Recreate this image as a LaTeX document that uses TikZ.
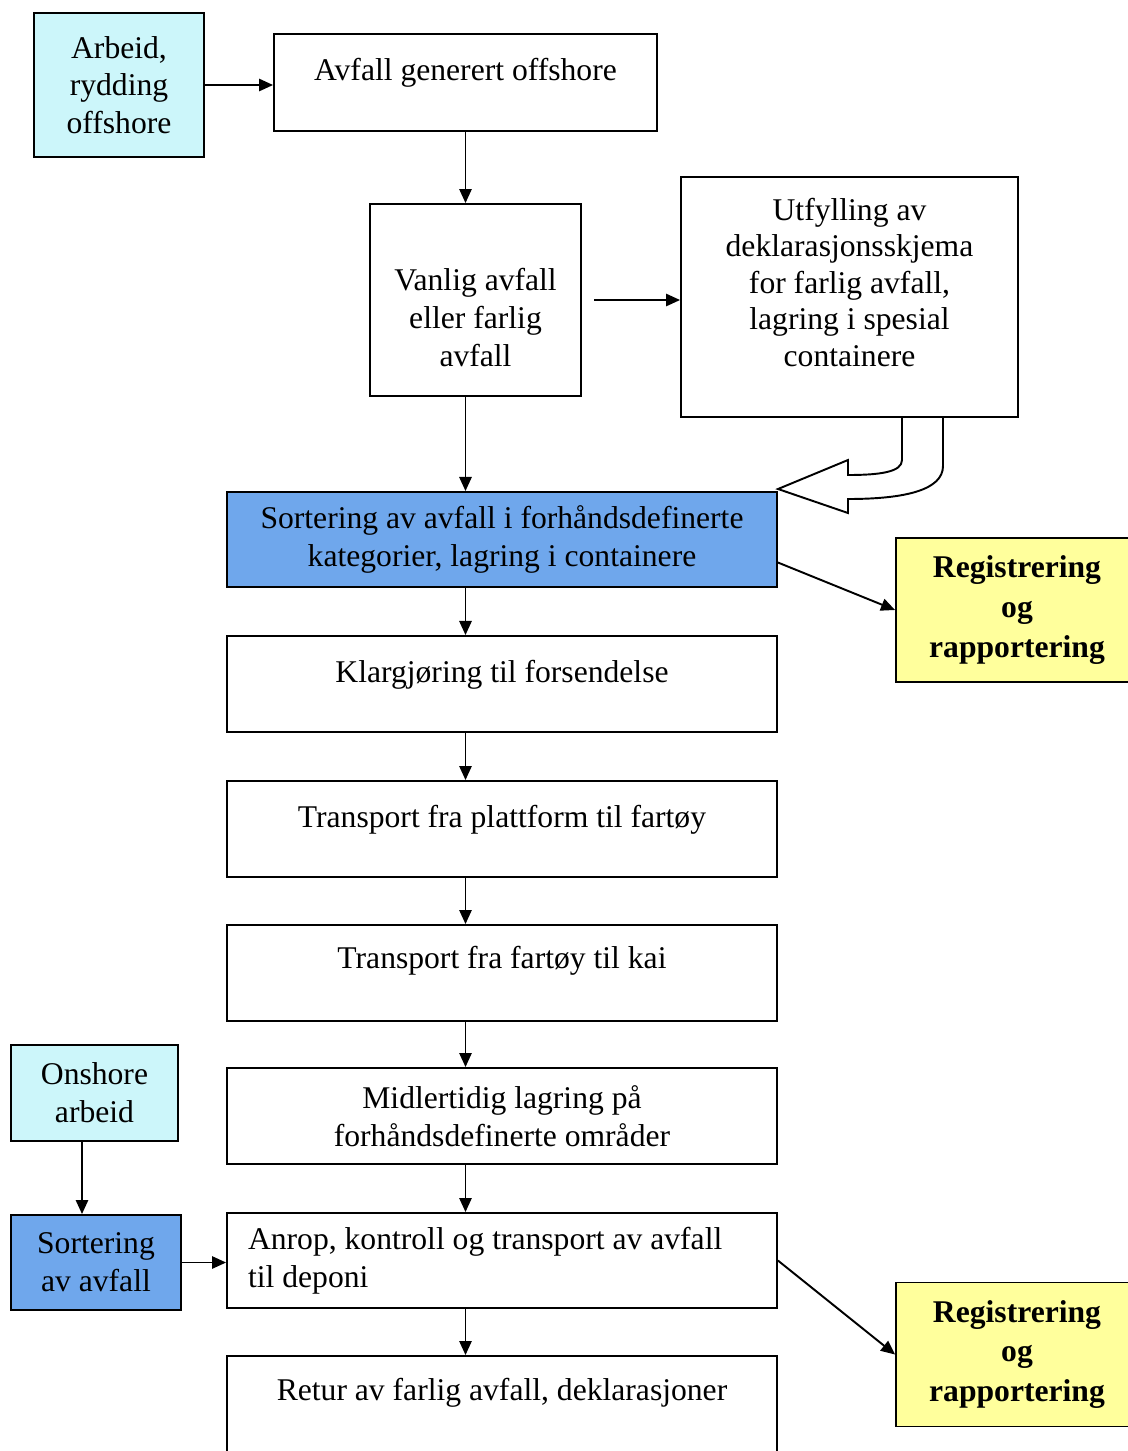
\documentclass[tikz,border=0pt]{standalone}
\usepackage{fontspec}
\setmainfont{Liberation Serif}
\usetikzlibrary{arrows.meta,calc}
\definecolor{lyseblaa}{HTML}{CCF6FA}
\definecolor{blaa}{HTML}{6FA7EC}
\definecolor{gul}{HTML}{FFFF9C}
\begin{document}
\begin{tikzpicture}[x=0.02cm,y=-0.02cm,
  box/.style={draw,line width=1.1pt,inner sep=0pt,align=center,font=\fontsize{18}{21.5}\selectfont},
  topbox/.style={box,minimum width=11cm,text height=0.92cm,text depth=1.0cm},
  regbox/.style={box,fill=gul,minimum width=4.84cm,minimum height=2.88cm,font=\fontsize{18}{22.6}\selectfont\bfseries},
  flow/.style={line width=1.1pt,-{Triangle[length=8pt,width=7pt]}}]
  \clip (0,0) rectangle (1128,1451);
  \fill[white] (0,0) rectangle (1128,1451);

  \node[box,fill=lyseblaa,minimum width=3.4cm,minimum height=2.88cm] (arbeid) at (119,85) {Arbeid,\\rydding\\offshore};
  \node[box,minimum width=7.66cm,text height=0.92cm,text depth=1.02cm] (generert) at (465.5,82.5) {Avfall generert offshore}; %上の箱
  \node[box,minimum width=4.22cm,minimum height=3.84cm] (vanlig) at (475.5,300) {\rule{0pt}{1.15cm}Vanlig avfall\\eller farlig\\avfall};
  \node[box,minimum width=6.74cm,minimum height=4.8cm,font=\fontsize{18}{20.8}\selectfont] (utfylling) at (849.5,297) {Utfylling av\\deklarasjonsskjema\\for farlig avfall,\\lagring i spesial\\containere\rule[-0.6cm]{0pt}{0pt}};
  \node[box,fill=blaa,minimum width=11cm,minimum height=1.9cm] (sortering) at (502,539.5) {Sortering av avfall i forhåndsdefinerte\\kategorier, lagring i containere};
  \node[regbox] (reg1) at (1017,610) {Registrering\\og\\rapportering};

  \node[topbox] (klar) at (502,684) {Klargjøring til forsendelse}; %中央の列
  \node[topbox] (plattform) at (502,829) {Transport fra plattform til fartøy};
  \node[topbox,text height=0.86cm,text depth=1.06cm] (kai) at (502,973) {Transport fra fartøy til kai};
  \node[box,minimum width=11cm,minimum height=1.92cm] (midl) at (502,1116) {Midlertidig lagring på\\forhåndsdefinerte områder};
  \node[box,align=flush left,inner xsep=0.42cm,text width=10.16cm,minimum height=1.9cm] (anrop) at (502,1260.5) {Anrop, kontroll og transport av avfall\\til deponi};
  \node[topbox,text height=0.88cm,text depth=1.04cm] (retur) at (502,1404) {Retur av farlig avfall, deklarasjoner};

  \node[box,fill=lyseblaa,minimum width=3.34cm,minimum height=1.92cm] (onshore) at (94.5,1093) {Onshore\\arbeid}; %左下の箱
  \node[box,fill=blaa,minimum width=3.4cm,minimum height=1.9cm] (sortonsh) at (96,1262.5) {Sortering\\av avfall};
  \node[regbox] (reg2) at (1017,1354.5) {Registrering\\og\\rapportering};

  \draw[flow] (arbeid.east) -- (arbeid.east -| generert.west);
  \draw[flow] (generert.south) -- (generert.south |- vanlig.north);
  \draw[flow,shorten <=7pt] (vanlig.east) -- (vanlig.east -| utfylling.west);
  \draw[flow] (vanlig.south -| generert) -- (sortering.north -| generert);
  \draw[flow] ($(sortering.east)+(0,23)$) -- (reg1.west);
  \draw[flow] (sortering.south -| generert) -- (klar.north -| generert);
  \draw[flow] (klar.south -| generert) -- (plattform.north -| generert);
  \draw[flow] (plattform.south -| generert) -- (kai.north -| generert);
  \draw[flow] (kai.south -| generert) -- (midl.north -| generert);
  \draw[flow] (midl.south -| generert) -- (anrop.north -| generert);
  \draw[flow] (anrop.south -| generert) -- (retur.north -| generert);
  \draw[flow] (anrop.east) -- (reg2.west);
  \draw[flow] ($(onshore.south)+(-12.5,0)$) coordinate (o) -- (o |- sortonsh.north);
  \draw[flow] (sortonsh.east) -- (sortonsh.east -| anrop.west);

  \draw[line width=1.1pt,line join=miter] (902,417) -- (902,460) .. controls (902,472) and (880,475) .. (848,475)
    -- (848,460) -- (778,489) -- (848,513) -- (848,499) .. controls (905,499) and (943,490) .. (943,466) -- (943,417); %曲がった矢印
\end{tikzpicture}
\end{document}
